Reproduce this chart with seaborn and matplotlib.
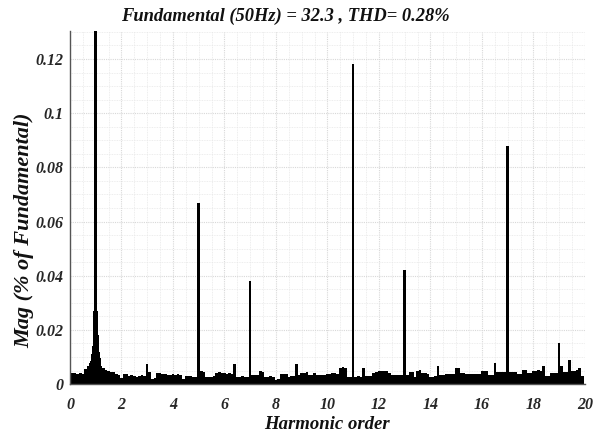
import numpy as np
import matplotlib
matplotlib.use("Agg")
import matplotlib.pyplot as plt
import seaborn as sns
from matplotlib.ticker import MultipleLocator, FuncFormatter

# FFT spectrum of the signal, magnitude in % of the 50 Hz fundamental
title_text = "Fundamental (50Hz) = 32.3 , THD= 0.28%"
x_label = "Harmonic order"
y_label = "Mag (% of Fundamental)"

# background spectrum, one value per 0.1 harmonic order (0.0 ... 19.9)
noise_mag = [
    0.0078, 0.0042, 0.0040, 0.0038, 0.0041, 0.0039, 0.0055, 0.0068, 0.0078, 0.0110,
    0.0090, 0.0080, 0.0066, 0.0060, 0.0052, 0.0050, 0.0045, 0.0044, 0.0036, 0.0034,
    0.0022, 0.0037, 0.0036, 0.0030, 0.0033, 0.0030, 0.0028, 0.0031, 0.0034, 0.0030,
    0.0073, 0.0045, 0.0020, 0.0022, 0.0040, 0.0041, 0.0038, 0.0037, 0.0035, 0.0034,
    0.0036, 0.0034, 0.0036, 0.0035, 0.0018, 0.0031, 0.0030, 0.0030, 0.0025, 0.0026,
    0.0030, 0.0048, 0.0046, 0.0027, 0.0026, 0.0028, 0.0029, 0.0042, 0.0043, 0.0040,
    0.0041, 0.0038, 0.0040, 0.0039, 0.0076, 0.0028, 0.0027, 0.0029, 0.0028, 0.0027,
    0.0030, 0.0033, 0.0034, 0.0033, 0.0048, 0.0045, 0.0028, 0.0026, 0.0030, 0.0025,
    0.0017, 0.0018, 0.0036, 0.0037, 0.0038, 0.0028, 0.0029, 0.0030, 0.0076, 0.0033,
    0.0042, 0.0041, 0.0043, 0.0033, 0.0034, 0.0040, 0.0033, 0.0034, 0.0032, 0.0035,
    0.0037, 0.0036, 0.0040, 0.0041, 0.0039, 0.0060, 0.0062, 0.0058, 0.0028, 0.0027,
    0.0028, 0.0028, 0.0029, 0.0027, 0.0060, 0.0030, 0.0031, 0.0029, 0.0042, 0.0043,
    0.0050, 0.0049, 0.0048, 0.0047, 0.0040, 0.0033, 0.0034, 0.0032, 0.0033, 0.0034,
    0.0033, 0.0034, 0.0045, 0.0044, 0.0028, 0.0050, 0.0051, 0.0040, 0.0041, 0.0039,
    0.0028, 0.0027, 0.0029, 0.0068, 0.0033, 0.0034, 0.0037, 0.0036, 0.0038, 0.0037,
    0.0060, 0.0058, 0.0040, 0.0041, 0.0039, 0.0037, 0.0036, 0.0038, 0.0037, 0.0036,
    0.0050, 0.0049, 0.0050, 0.0033, 0.0034, 0.0078, 0.0045, 0.0044, 0.0046, 0.0045,
    0.0045, 0.0044, 0.0046, 0.0045, 0.0037, 0.0036, 0.0052, 0.0053, 0.0040, 0.0041,
    0.0050, 0.0049, 0.0051, 0.0050, 0.0068, 0.0030, 0.0029, 0.0040, 0.0041, 0.0040,
    0.0040, 0.0068, 0.0045, 0.0044, 0.0090, 0.0050, 0.0049, 0.0051, 0.0060, 0.0030,
]
noise_step = 0.1

# spectral leakage skirt on both sides of the fundamental
skirt_offset = [0.06, 0.08, 0.10, 0.12, 0.14, 0.16, 0.18, 0.20]
skirt_mag = [0.046, 0.027, 0.018, 0.014, 0.012, 0.011, 0.0095, 0.0085]

# fundamental and the distinct harmonics
harmonic_order = [1, 5, 7, 11, 13, 17, 19]
harmonic_mag = [100.0, 0.067, 0.038, 0.118, 0.042, 0.088, 0.015]

noise_x = np.round(np.arange(len(noise_mag)) * noise_step, 2)
skirt_x = np.round(np.concatenate([1 - np.array(skirt_offset[::-1]),
                                   1 + np.array(skirt_offset)]), 2)
skirt_y = list(skirt_mag[::-1]) + list(skirt_mag)

sns.set_style("white")
serif = ["Liberation Serif", "DejaVu Serif"]
plt.rcParams["font.family"] = serif

fig = plt.figure(figsize=(6.03, 4.36), dpi=100)
ax = fig.add_axes([0.116, 0.119, 0.854, 0.811])

bar_kw = dict(native_scale=True, color="black", saturation=1, linewidth=0,
              errorbar=None, ax=ax)
sns.barplot(x=noise_x, y=noise_mag, width=1.0, **bar_kw)
sns.barplot(x=skirt_x, y=skirt_y, width=1.0, **bar_kw)
sns.barplot(x=harmonic_order, y=harmonic_mag, width=0.05, **bar_kw)

ax.set_xlim(0, 20)
ax.set_ylim(0, 0.1305)
ax.xaxis.set_major_locator(MultipleLocator(2))
ax.xaxis.set_minor_locator(MultipleLocator(0.5))
ax.yaxis.set_major_locator(MultipleLocator(0.02))
ax.yaxis.set_minor_locator(MultipleLocator(0.005))
fmt = FuncFormatter(lambda v, pos: "%g" % round(v, 4))
ax.xaxis.set_major_formatter(fmt)
ax.yaxis.set_major_formatter(fmt)

ax.set_axisbelow(True)
ax.grid(which="major", color="#d8d8d8", linestyle=(0, (1, 1)), linewidth=0.8)
ax.grid(which="minor", color="#e8e8e8", linestyle=(0, (1, 1)), linewidth=0.6)

for side in ("top", "right"):
    ax.spines[side].set_visible(False)
for side in ("left", "bottom"):
    ax.spines[side].set_color("#555555")
    ax.spines[side].set_linewidth(1.0)

ax.tick_params(axis="both", which="major", direction="in", length=4,
               color="#555555", labelsize=11.5)
ax.tick_params(axis="x", which="major", pad=9)
ax.tick_params(axis="y", which="major", pad=5)
ax.tick_params(axis="both", which="minor", length=0)
for lab in ax.get_xticklabels() + ax.get_yticklabels():
    lab.set_fontweight("bold")
    lab.set_fontstyle("italic")

label_kw = dict(fontweight="bold", fontstyle="italic", color="#111111")
fig.text(0.542, 0.027, x_label, ha="center", va="center", fontsize=13.5,
         **label_kw)
fig.text(0.040, 0.472, y_label, ha="center", va="center", rotation=90,
         fontsize=16, **label_kw)
fig.text(0.473, 0.962, title_text, ha="center", va="center", fontsize=13.3,
         **label_kw)

fig.savefig("out.png", dpi=100)
